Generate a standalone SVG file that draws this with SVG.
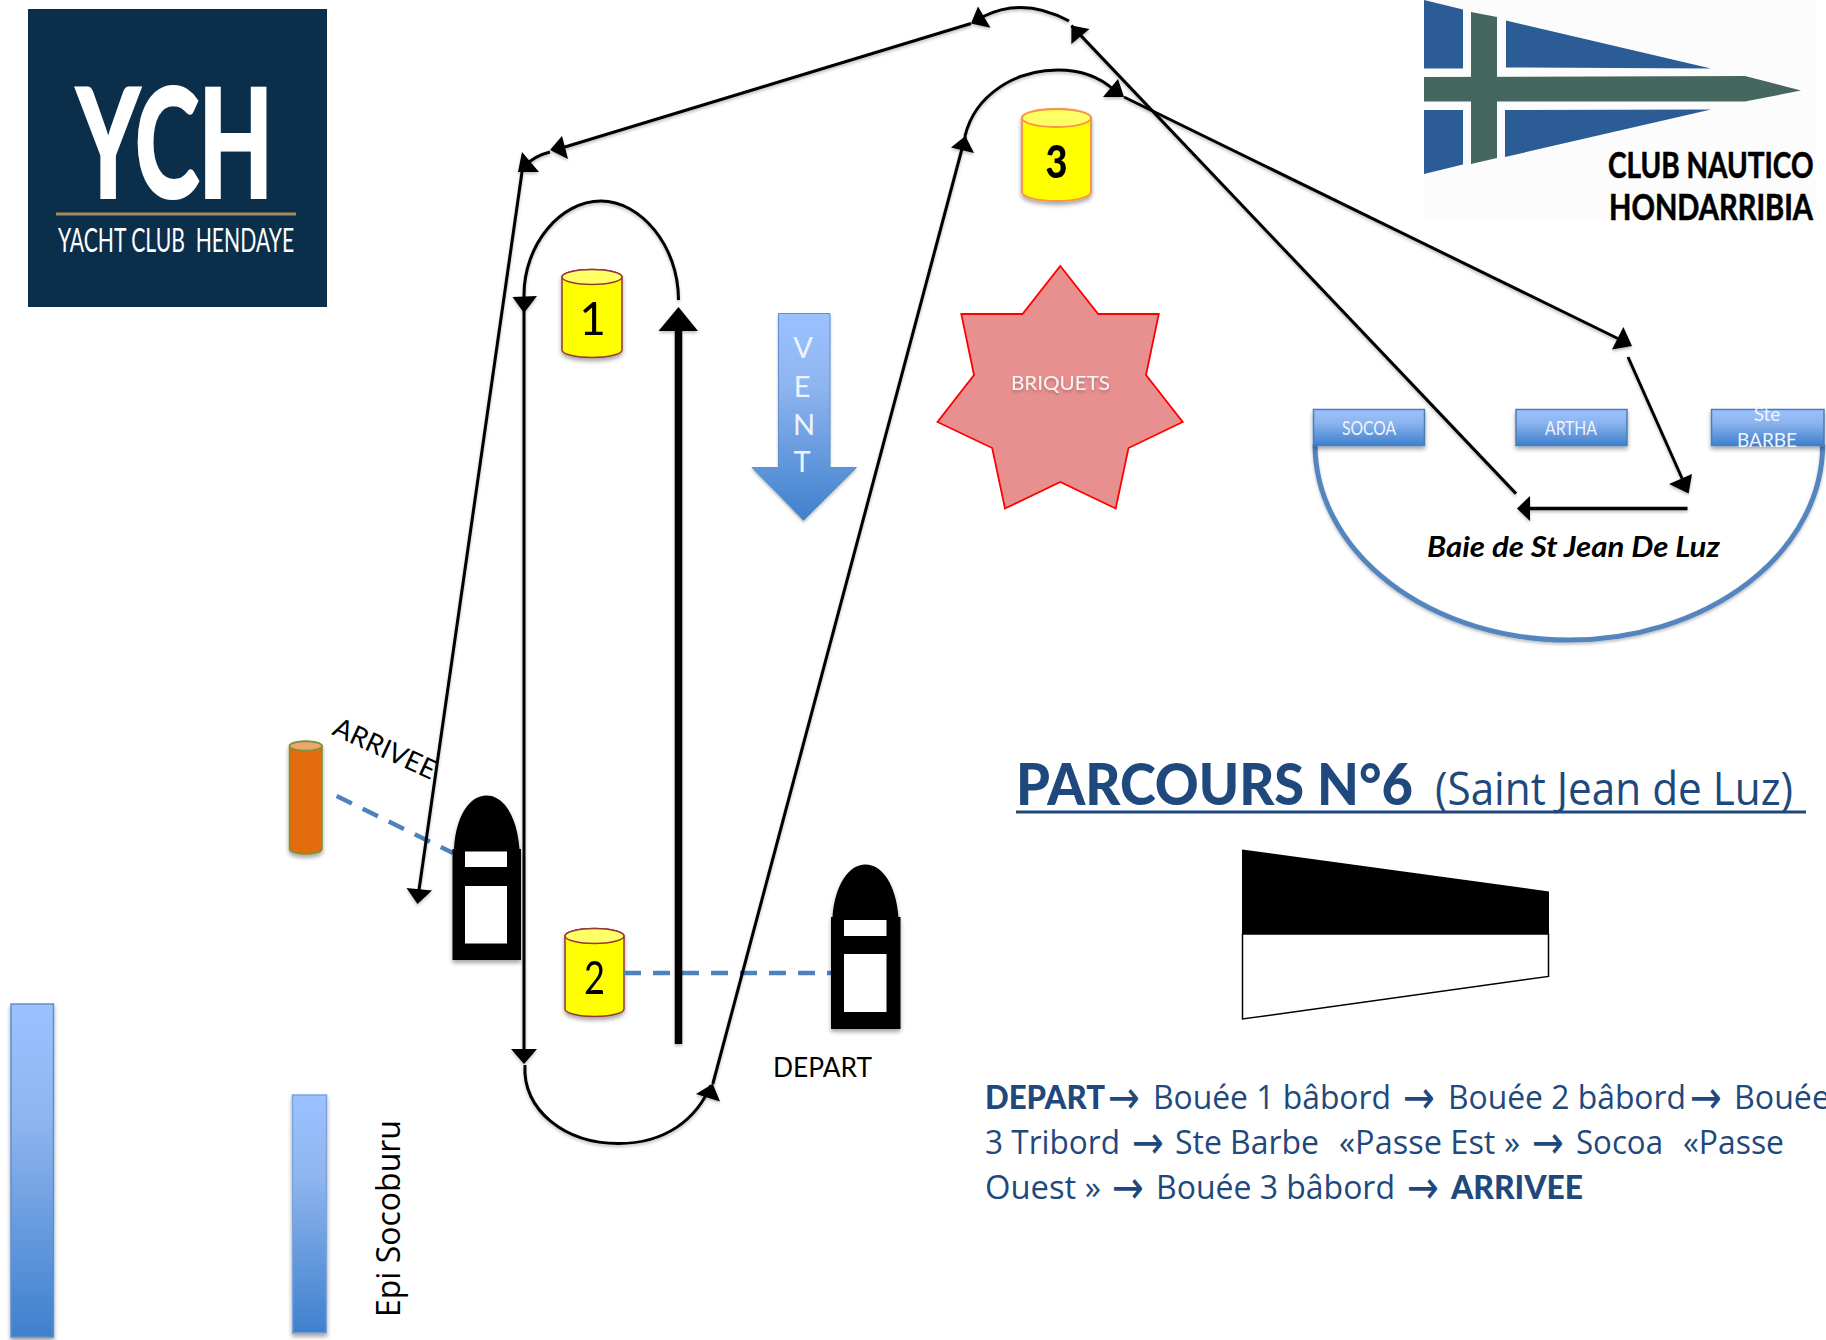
<svg xmlns="http://www.w3.org/2000/svg" width="1826" height="1340" viewBox="0 0 1826 1340">
<style>
text{font-family:"Lato","Open Sans","Liberation Sans",sans-serif}
.ln{fill:none;stroke:#000;stroke-width:3}
.body{fill:#ff0;stroke:#953735;stroke-width:1.5}
.top{fill:#ffff66;stroke:#953735;stroke-width:1.5}
.boat{fill:#000}
.win{fill:#fff}
.dash{fill:none;stroke:#4f81bd;stroke-width:4.5;stroke-dasharray:17 12}
.tab{fill:url(#blue);stroke:#4a7ebb;stroke-width:1.5}
.tabt{fill:#eef4ff;font-size:19px;text-anchor:middle}
.par{fill:#1f497d;font-size:33px;font-family:"Open Sans","Lato",sans-serif}
.bold{font-family:"Lato","Open Sans",sans-serif;font-weight:900}
.arr{fill:#1f497d;font-size:46px;font-family:"DejaVu Sans",sans-serif;font-weight:400}
.hb{fill:#2b5c96}
.hg{fill:#466660}
</style>
<defs>
<linearGradient id="blue" x1="0" y1="0" x2="0" y2="1"><stop offset="0" stop-color="#9bc2ff"/><stop offset="0.35" stop-color="#8eb5ef"/><stop offset="1" stop-color="#3f80cd"/></linearGradient>
<filter id="sh" x="-20%" y="-20%" width="140%" height="140%"><feDropShadow dx="0" dy="3" stdDeviation="2" flood-color="#000" flood-opacity=".35"/></filter>
<filter id="lsh" x="-5%" y="-5%" width="110%" height="110%"><feDropShadow dx="0" dy="2" stdDeviation="1.5" flood-color="#000" flood-opacity=".25"/></filter>
</defs>
<rect width="1826" height="1340" fill="#fff"/>

<g id="logo-ych">
<rect x="28" y="9" width="299" height="298" fill="#0b2f4a"/>
<text transform="translate(77 197) scale(.62 1)" x="0" y="0" font-size="150" font-family="Liberation Sans" font-weight="700" fill="#fff" stroke="#fff" stroke-width="4" textLength="316" lengthAdjust="spacingAndGlyphs">YCH</text>
<rect x="56" y="212.500" width="240" height="3" fill="#a58a5f"/>
<text transform="translate(58 252) scale(.72 1)" x="0" y="0" font-size="33" font-family="Liberation Sans" fill="#fff" style="white-space:pre" textLength="328" lengthAdjust="spacingAndGlyphs">YACHT CLUB  HENDAYE</text>
</g>

<g id="logo-hondarribia">
<rect x="1424" y="0" width="392" height="220" fill="#fcfcfc"/>
<polygon class="hb" points="1424,0 1463,9.500 1463,68.500 1424,68.500"/>
<polygon class="hg" points="1471,12 1497,17 1497,158 1471,164"/>
<polygon class="hb" points="1506,20.500 1711,68.500 1506,67.500"/>
<polygon class="hg" points="1424,77 1745,76 1801,90.500 1745,101.500 1424,101.500"/>
<polygon class="hb" points="1424,110 1463,110 1463,164.500 1424,174"/>
<polygon class="hb" points="1505,110 1711,109.500 1505,157"/>
<text transform="translate(1608 178) scale(.75 1)" x="0" y="0" font-size="36" font-family="Liberation Sans" font-weight="700" fill="#000" stroke="#000" stroke-width=".6" textLength="274" lengthAdjust="spacingAndGlyphs">CLUB NAUTICO</text>
<text transform="translate(1609 219.500) scale(.75 1)" x="0" y="0" font-size="36" font-family="Liberation Sans" font-weight="700" fill="#000" stroke="#000" stroke-width=".6" textLength="272" lengthAdjust="spacingAndGlyphs">HONDARRIBIA</text>
</g>

<g id="bay">
<path d="M1315,444.500 A253.800,195.500 0 0 0 1822.700,444.500" fill="none" stroke="#5585bf" stroke-width="5" filter="url(#lsh)"/>
<text x="1427" y="557" font-size="28" font-weight="700" font-style="italic" fill="#000" textLength="293" lengthAdjust="spacingAndGlyphs">Baie de St Jean De Luz</text>
</g>
<g id="socoa"><rect class="tab" x="1313.500" y="409.500" width="111" height="36" filter="url(#sh)"/><text class="tabt" x="1369" y="435" textLength="54" lengthAdjust="spacingAndGlyphs">SOCOA</text></g>
<g id="artha"><rect class="tab" x="1516" y="409.500" width="111" height="36" filter="url(#sh)"/><text class="tabt" x="1571" y="435" textLength="52" lengthAdjust="spacingAndGlyphs">ARTHA</text></g>
<g id="ste-barbe"><rect class="tab" x="1711.500" y="409.500" width="112.500" height="36" filter="url(#sh)"/><text class="tabt" x="1767" y="421">Ste</text><text class="tabt" x="1767" y="447">BARBE</text></g>

<g id="briquets">
<polygon points="1060.300,266 1098.200,314 1158.800,314 1146,375 1182.700,422 1128.500,448 1115.700,508.500 1060.300,482 1005,508.500 992.200,448 937.500,422 974,375 961.300,314 1022.500,314" fill="#e89090" stroke="#f00" stroke-width="1.800"/>
<text x="1060.500" y="390" font-size="20" text-anchor="middle" fill="#f7f4f4" textLength="99" lengthAdjust="spacingAndGlyphs" filter="url(#lsh)">BRIQUETS</text>
</g>

<g id="vent">
<polygon points="778.500,313.500 830,313.500 830,467.500 856.500,467.500 803.600,520.500 752,467.500 778.500,467.500" fill="url(#blue)" stroke="#5f8fcc" stroke-width="1" filter="url(#lsh)"/>
<g fill="#eef4ff" font-size="29" text-anchor="middle">
<text x="803" y="357.500">V</text><text x="802" y="396.500">E</text><text x="804" y="435">N</text><text x="802" y="472">T</text>
</g>
</g>

<g id="buoy-1" filter="url(#sh)">
<path class="body" d="M562,277A30,7.500 0 0 1 622,277V350A30,7.500 0 0 1 562,350Z"/>
<ellipse class="top" cx="592" cy="277" rx="30" ry="7.500"/>
<text x="592.500" y="335" font-size="46" text-anchor="middle">1</text>
</g>
<g id="buoy-2" filter="url(#sh)">
<path class="body" d="M565,936A29.500,7.500 0 0 1 624,936V1009A29.500,7.500 0 0 1 565,1009Z"/>
<ellipse class="top" cx="594.500" cy="936" rx="29.500" ry="7.500"/>
<text x="594.500" y="994" font-size="46" text-anchor="middle" textLength="21" lengthAdjust="spacingAndGlyphs">2</text>
</g>
<g id="buoy-3" filter="url(#sh)">
<path d="M1022,118A34.500,9 0 0 1 1091,118V192A34.500,9 0 0 1 1022,192Z" fill="#ff0" stroke="#f79646" stroke-width="2"/>
<ellipse cx="1056.500" cy="118" rx="34.500" ry="9" fill="#ffff66" stroke="#f79646" stroke-width="2"/>
<text x="1056.500" y="178" font-size="46" font-weight="900" text-anchor="middle" textLength="22" lengthAdjust="spacingAndGlyphs">3</text>
</g>
<g id="finish-mark" filter="url(#sh)">
<path d="M289.500,746A16,5 0 0 1 322,746V849A16,5 0 0 1 289.500,849Z" fill="#e36c09" stroke="#76923c" stroke-width="1.500"/>
<ellipse cx="305.700" cy="746" rx="16.200" ry="4.500" fill="#f1a56e" stroke="#76923c" stroke-width="1.500"/>
</g>

<g id="dashes">
<path class="dash" d="M336.600,796L453,853"/>
<path class="dash" d="M624,973H831"/>
</g>

<g id="boat-arrivee" filter="url(#sh)">
<path class="boat" d="M452.500,849H454C456,815 470,795.600 486.500,795.600S517,815 519.500,849H521V960H452.500Z"/>
<rect class="win" x="465" y="851.500" width="42" height="15.500"/>
<rect class="win" x="465" y="886" width="42" height="57.500"/>
</g>
<g id="boat-depart" filter="url(#sh)">
<path class="boat" d="M831,917H832.500C835,884 849,864.400 865.500,864.400S896,884 898.500,917H900.500V1029H831Z"/>
<rect class="win" x="844" y="920" width="42.500" height="16"/>
<rect class="win" x="844" y="954" width="42.500" height="58"/>
</g>

<g id="connectors" filter="url(#lsh)">
<path class="ln" d="M1069,21Q1023,-4 982,17"/>
<polygon points="978,6.400 971,23.500 990.500,27.800"/>
<path class="ln" d="M971,23.500L555,150"/>
<polygon points="550,150 562,136 568,159"/>
<path class="ln" d="M550,152Q534,156 525,166"/>
<polygon points="522,152 518,172 539,172"/>
<path class="ln" d="M522,172L419,890"/>
<polygon points="417.500,904 406.500,888 432,890.500"/>
<path class="ln" d="M678.500,300C678.500,245 640,201 601,201C560,201 524,245 524,295"/>
<path class="ln" d="M524,295V1050"/>
<polygon points="511,1049 537,1049 524,1064"/>
<polygon points="512.500,297 537,296 524,313"/>
<path d="M678.500,1044V325" fill="none" stroke="#000" stroke-width="7.500"/>
<polygon points="678.500,307 658.500,331 698,331"/>
<path class="ln" d="M525,1065C522,1110 565,1143.500 618.500,1143.500C665,1143.500 696,1120 711,1085"/>
<polygon points="712.800,1083.700 696,1094 720,1101.600"/>
<path class="ln" d="M712.800,1084L965.400,136"/>
<polygon points="965.400,136 951,147.400 974,153"/>
<path class="ln" d="M965,136C975,95 1015,70 1058,70C1085,70 1103,80 1114,90"/>
<polygon points="1118,79 1103,97 1124,97"/>
<path class="ln" d="M1124,97L1625,342"/>
<polygon points="1623.400,327 1612,349.600 1632,346"/>
<path class="ln" d="M1628,357L1685,485"/>
<polygon points="1692,474 1669,484 1688.600,493.600"/>
<path d="M1687.500,508.500H1530" fill="none" stroke="#000" stroke-width="3.500"/>
<polygon points="1517,508.500 1530,496 1530,521"/>
<path class="ln" d="M1516,493.600L1071.400,25.600"/>
<polygon points="1071.400,25.600 1089.500,29 1071.400,44"/>
</g>

<text x="331" y="734" font-size="27" transform="rotate(24.700 331 734)" textLength="110" lengthAdjust="spacingAndGlyphs">ARRIVEE</text>
<text x="773" y="1077" font-size="27" textLength="99" lengthAdjust="spacingAndGlyphs">DEPART</text>

<g id="epi">
<rect x="292.500" y="1095" width="34" height="238" fill="url(#blue)" stroke="#7ba4d8" stroke-width="1.500" filter="url(#sh)"/>
<text x="400" y="1317" font-size="33" style="font-family:'Open Sans',sans-serif" transform="rotate(-90 400 1317)" textLength="197" lengthAdjust="spacingAndGlyphs">Epi Socoburu</text>
</g>
<g id="shore"><rect x="11" y="1004" width="42.500" height="333" fill="url(#blue)" stroke="#5f8fcc" stroke-width="1.500" filter="url(#sh)"/></g>

<g id="title">
<text x="1016" y="804.500" font-size="58" font-weight="900" fill="#1f497d" textLength="397" lengthAdjust="spacingAndGlyphs">PARCOURS N°6</text>
<text x="1435" y="804.500" font-size="46" fill="#1f497d" style="font-family:'Open Sans',sans-serif" textLength="358" lengthAdjust="spacingAndGlyphs">(Saint Jean de Luz)</text>
<rect x="1016" y="810.500" width="790" height="3" fill="#1f497d"/>
</g>

<g id="flag">
<polygon points="1242,849.500 1549,891.400 1549,934 1242,934"/>
<polygon points="1242.500,934 1548.500,934 1548.500,976.400 1242.500,1019" fill="#fff" stroke="#000" stroke-width="1.500"/>
</g>

<g id="route">
<text class="par" y="1109"><tspan class="bold" x="985" textLength="120" lengthAdjust="spacingAndGlyphs">DEPART</tspan><tspan class="arr" x="1108" y="1113" textLength="32" lengthAdjust="spacingAndGlyphs">→</tspan><tspan x="1153" y="1109" textLength="238" lengthAdjust="spacingAndGlyphs">Bouée 1 bâbord</tspan><tspan class="arr" x="1403" y="1113" textLength="32" lengthAdjust="spacingAndGlyphs">→</tspan><tspan x="1448" y="1109" textLength="238" lengthAdjust="spacingAndGlyphs">Bouée 2 bâbord</tspan><tspan class="arr" x="1690" y="1113" textLength="32" lengthAdjust="spacingAndGlyphs">→</tspan><tspan x="1734" y="1109" textLength="96" lengthAdjust="spacingAndGlyphs">Bouée</tspan></text>
<text class="par" y="1154"><tspan x="985" textLength="135" lengthAdjust="spacingAndGlyphs">3 Tribord</tspan><tspan class="arr" x="1132" y="1158" textLength="32" lengthAdjust="spacingAndGlyphs">→</tspan><tspan x="1175" y="1154" textLength="144" lengthAdjust="spacingAndGlyphs">Ste Barbe</tspan><tspan x="1339" textLength="181" lengthAdjust="spacingAndGlyphs">«Passe Est »</tspan><tspan class="arr" x="1532" y="1158" textLength="32" lengthAdjust="spacingAndGlyphs">→</tspan><tspan x="1576" y="1154" textLength="87" lengthAdjust="spacingAndGlyphs">Socoa</tspan><tspan x="1683" textLength="101" lengthAdjust="spacingAndGlyphs">«Passe</tspan></text>
<text class="par" y="1199"><tspan x="985" textLength="116" lengthAdjust="spacingAndGlyphs">Ouest »</tspan><tspan class="arr" x="1112" y="1203" textLength="32" lengthAdjust="spacingAndGlyphs">→</tspan><tspan x="1156" y="1199" textLength="239" lengthAdjust="spacingAndGlyphs">Bouée 3 bâbord</tspan><tspan class="arr" x="1407" y="1203" textLength="32" lengthAdjust="spacingAndGlyphs">→</tspan><tspan class="bold" x="1451" y="1199" textLength="132" lengthAdjust="spacingAndGlyphs">ARRIVEE</tspan></text>
</g>
</svg>
